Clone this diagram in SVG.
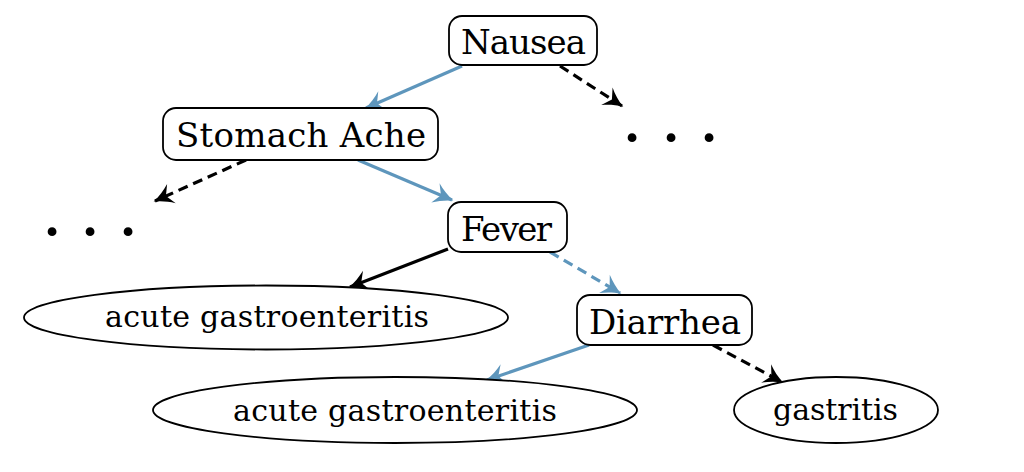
<svg xmlns="http://www.w3.org/2000/svg" width="1024" height="472" viewBox="0 0 1024 472">
  <style>
    .box { fill: #ffffff; stroke: #000000; stroke-width: 1.8; }
    .lbl { font-family: "DejaVu Serif", serif; font-size: 34px; fill: #000000; text-anchor: middle; }
    .elbl { font-family: "DejaVu Serif", serif; font-size: 30px; fill: #000000; text-anchor: middle; }
    .dots { font-family: "DejaVu Serif", serif; font-size: 68px; fill: #000000; text-anchor: middle; }
    .blue { stroke: #5e96bc; stroke-width: 3.2; fill: none; }
    .black { stroke: #000000; stroke-width: 3.2; fill: none; }
    .dash { stroke-dasharray: 10 6; }
  </style>
  <defs>
    <marker id="arrBlue" markerUnits="userSpaceOnUse" viewBox="-22 -13 24 26" refX="0" refY="0" markerWidth="24" markerHeight="26" orient="auto">
      <path d="M1.5,0 C-6,-2.5 -12,-6 -18,-10.5 L-12,0 L-18,10.5 C-12,6 -6,2.5 1.5,0 Z" fill="#5e96bc"/>
    </marker>
    <marker id="arrBlack" markerUnits="userSpaceOnUse" viewBox="-22 -13 24 26" refX="0" refY="0" markerWidth="24" markerHeight="26" orient="auto">
      <path d="M1.5,0 C-6,-2.5 -12,-6 -18,-10.5 L-12,0 L-18,10.5 C-12,6 -6,2.5 1.5,0 Z" fill="#000000"/>
    </marker>
  </defs>

  <g id="connectors">
    <line class="blue" x1="462" y1="66" x2="366" y2="108" marker-end="url(#arrBlue)"/>
    <line class="black dash" x1="560" y1="66" x2="622" y2="106" marker-end="url(#arrBlack)"/>
    <line class="black dash" x1="246" y1="160" x2="155" y2="201" marker-end="url(#arrBlack)"/>
    <line class="blue" x1="358" y1="160" x2="452" y2="200" marker-end="url(#arrBlue)"/>
    <line class="black" x1="448" y1="249" x2="350" y2="287" marker-end="url(#arrBlack)"/>
    <line class="blue dash" x1="550" y1="252" x2="620" y2="293" marker-end="url(#arrBlue)"/>
    <line class="blue" x1="589" y1="345" x2="487" y2="380" marker-end="url(#arrBlue)"/>
    <line class="black dash" x1="713" y1="345" x2="782" y2="382" marker-end="url(#arrBlack)"/>
  </g>

  <g id="nausea">
    <rect class="box" x="449" y="16" width="148" height="49" rx="13"/>
    <text class="lbl" x="523.5" y="54" textLength="125">Nausea</text>
  </g>
  <g id="stomach-ache">
    <rect class="box" x="163" y="108" width="275" height="52" rx="13"/>
    <text class="lbl" x="301" y="147" textLength="250">Stomach Ache</text>
  </g>
  <g id="fever">
    <rect class="box" x="448" y="202" width="119" height="50" rx="13"/>
    <text class="lbl" x="506.5" y="241" textLength="91">Fever</text>
  </g>
  <g id="diarrhea">
    <rect class="box" x="577" y="295" width="175" height="50" rx="13"/>
    <text class="lbl" x="665" y="334" textLength="152">Diarrhea</text>
  </g>
  <g id="acute-gastroenteritis-1">
    <ellipse class="box" cx="266" cy="317.5" rx="242" ry="32"/>
    <text class="elbl" x="267" y="327" textLength="324">acute gastroenteritis</text>
  </g>
  <g id="acute-gastroenteritis-2">
    <ellipse class="box" cx="395" cy="410" rx="242" ry="33"/>
    <text class="elbl" x="395" y="421" textLength="324">acute gastroenteritis</text>
  </g>
  <g id="gastritis">
    <ellipse class="box" cx="836" cy="410" rx="102" ry="33"/>
    <text class="elbl" x="835.5" y="420" textLength="125">gastritis</text>
  </g>
  <g id="dots-right">
    <text class="dots" x="632 671 709" y="141">...</text>
  </g>
  <g id="dots-left">
    <text class="dots" x="52 90 128" y="235">...</text>
  </g>
</svg>
